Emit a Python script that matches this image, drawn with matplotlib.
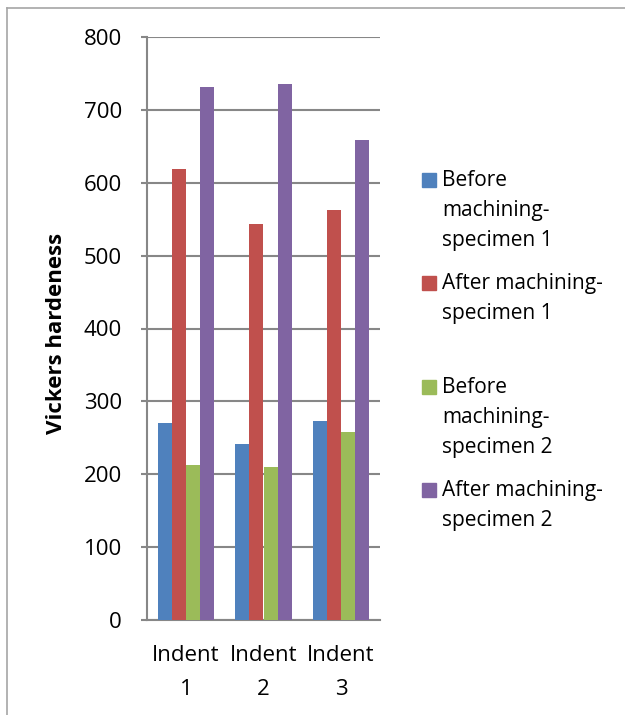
import matplotlib
matplotlib.use("Agg")
import matplotlib.pyplot as plt
import numpy as np
from matplotlib.patches import Rectangle
from matplotlib.lines import Line2D

plt.rcParams['font.family'] = ['Open Sans', 'DejaVu Sans']

categories = ["Indent\n1", "Indent\n2", "Indent\n3"]
series_names = ["Before\nmachining-\nspecimen 1", "After machining-\nspecimen 1",
                "Before\nmachining-\nspecimen 2", "After machining-\nspecimen 2"]
before_spec1 = [271, 242, 273]
after_spec1 = [619, 544, 563]
before_spec2 = [213, 210, 258]
after_spec2 = [732, 735, 658]
colors = ["#4F81BD", "#C0504D", "#9BBB59", "#8064A2"]
yticks = [0, 100, 200, 300, 400, 500, 600, 700, 800]

W, H = 625, 715
fig = plt.figure(figsize=(W / 100, H / 100), dpi=100)
ax = fig.add_axes([147 / W, 1 - 620 / H, 233 / W, 583 / H])

data = [before_spec1, after_spec1, before_spec2, after_spec2]
x = np.arange(len(categories))
bw = 0.182
for i, (vals, c) in enumerate(zip(data, colors)):
    ax.bar(x + (i - 1.5) * bw, vals, width=bw, color=c, edgecolor='none', zorder=3)

grid_c = "#878787"
ax.set_xlim(-0.5, 2.5)
ax.set_ylim(0, 800)
ax.set_yticks(yticks)
ax.set_yticklabels([str(t) for t in yticks], fontsize=16)
ax.set_xticks(x)
ax.set_xticklabels(categories, fontsize=16, linespacing=1.8)
ax.yaxis.grid(True, color=grid_c, linewidth=1.5, zorder=0)
ax.tick_params(axis='y', length=4, width=1.5, color=grid_c, pad=14)
ax.tick_params(axis='x', length=0, pad=18)
for s in ['top', 'right']:
    ax.spines[s].set_visible(False)
for s in ['left', 'bottom']:
    ax.spines[s].set_color(grid_c)
    ax.spines[s].set_linewidth(1.5)

fig.text(57 / W, 1 - 333 / H, "Vickers hardeness", rotation=90, ha='center', va='center',
         fontsize=16, fontweight='bold')

# legend
ys = [180, 283, 387, 490]
for name, c, yc in zip(series_names, colors, ys):
    fig.add_artist(Rectangle((422 / W, 1 - (yc + 7) / H), 14 / W, 14 / H,
                             transform=fig.transFigure, color=c))
    fig.text(442 / W, 1 - (yc - 10) / H, name, ha='left', va='top', fontsize=15,
             linespacing=1.55)

# outer border
bc = "#A6A6A6"
fig.add_artist(Line2D([7 / W, 7 / W], [0, 1 - 7.5 / H], transform=fig.transFigure,
                      color=bc, linewidth=1.2))
fig.add_artist(Line2D([7 / W, 1], [1 - 7.5 / H, 1 - 7.5 / H], transform=fig.transFigure,
                      color=bc, linewidth=1.2))

fig.savefig("out.png", dpi=100)
